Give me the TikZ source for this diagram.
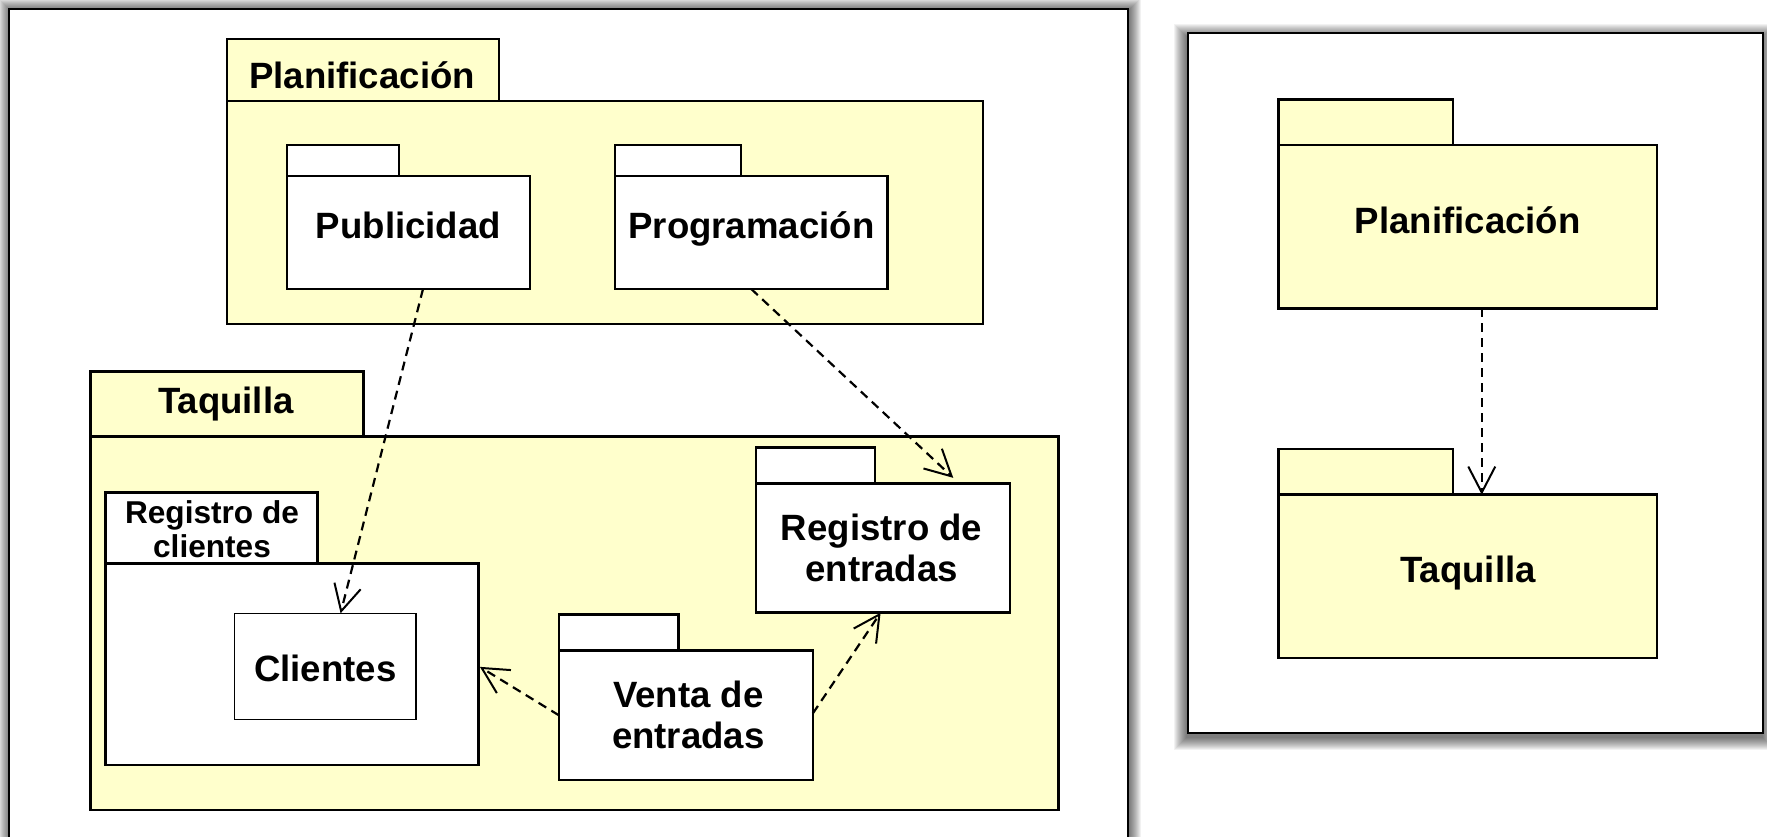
\documentclass[tikz,border=0pt]{standalone}
\usepackage{fontspec}
\setmainfont{Liberation Sans}
\usetikzlibrary{arrows.meta,calc}
\definecolor{pkgyellow}{RGB}{255,255,204}
\begin{document}
\begin{tikzpicture}[x=0.5pt,y=-0.5pt,
  box/.style={draw=black,line width=1.25pt,inner sep=0pt,outer sep=0pt,anchor=north west},
  sz/.style 2 args={minimum width=#1*0.5pt,minimum height=#2*0.5pt},
  frame/.style={draw=black,line width=1pt,fill=white,inner sep=0pt,outer sep=0pt,anchor=north west},
  bigtxt/.style={font=\bfseries\fontsize{18.3}{20.5}\selectfont,inner sep=0pt,anchor=base,align=center},
  smalltxt/.style={font=\bfseries\fontsize{15.8}{17}\selectfont,inner sep=0pt,anchor=base,align=center},
  dep/.style={draw=black,line width=1.1pt,dash pattern=on 4.5pt off 3pt,
    -{Straight Barb[length=13pt,width=13.5pt,line width=1pt]}}
]
\useasboundingbox (0,0) rectangle (1767,836);
\clip (0,0) rectangle (1767,836);
\fill[white] (0,0) rectangle (1767,836);

% shadows
\foreach \r in {1,...,12}
  \fill[black,opacity=0.055] (10-\r,10-\r) rectangle (1128.5+\r,851+\r);
\foreach \r in {1,...,13}
  \fill[black,opacity=0.05] (1187-\r,37-\r) rectangle (1762+\r,737+\r);

% frames
\node[frame,sz={1118.5}{841}] (leftframe) at (9,9) {};
\node[frame,sz={575}{700}] (rightframe) at (1188,33) {};

% ---- left panel ----
% Planificacion (container)
\node[box,fill=pkgyellow,sz={272}{62}] (plantab) at (227,39) {};
\node[box,fill=pkgyellow,sz={756}{223}] (planbody) at (227,101) {};
\node[bigtxt] (plantxt) at (362,88.3) {Planificación};
% Publicidad
\node[box,fill=white,sz={112}{31}] (pubtab) at (287,145) {};
\node[box,fill=white,sz={243}{113}] (pubbody) at (287,176) {};
\node[bigtxt] (pubtxt) at (408.5,238.3) {Publicidad};
% Programacion
\node[box,fill=white,sz={126}{31}] (progtab) at (615,145) {};
\node[box,fill=white,sz={272.5}{113}] (progbody) at (615,176) {};
\node[bigtxt] (progtxt) at (751.4,238.3) {Programación};

% Taquilla (container)
\node[box,fill=pkgyellow,sz={272.9}{65}] (taqtab) at (90.7,371.7) {};
\node[box,fill=pkgyellow,sz={967.9}{373.3}] (taqbody) at (90.7,436.7) {};
\node[bigtxt] (taqtxt) at (225.8,413.3) {Taquilla};
% Registro de clientes
\node[box,fill=white,sz={212}{70.6}] (rcltab) at (105.6,492.7) {};
\node[box,fill=white,sz={372.8}{201.7}] (rclbody) at (105.6,563.3) {};
\node[smalltxt] (rcltxt) at (212,557.3) {Registro de\\clientes};
% Clientes
\node[box,fill=white,line width=0.8pt,sz={181.4}{106}] (cli) at (234.6,613.3) {};
\node[bigtxt] (clitxt) at (325.3,681.7) {Clientes};
% Registro de entradas
\node[box,fill=white,sz={118.7}{36}] (rentab) at (756.2,447.3) {};
\node[box,fill=white,sz={253.8}{129.4}] (renbody) at (756.2,483.3) {};
\node[bigtxt] (rentxt) at (881.6,581) {Registro de\\entradas};
% Venta de entradas
\node[box,fill=white,sz={119.5}{36.4}] (ventab) at (559,614.3) {};
\node[box,fill=white,sz={253.9}{129.3}] (venbody) at (559,650.7) {};
\node[bigtxt] (ventxt) at (688.3,748.3) {Venta de\\entradas};

% ---- right panel ----
\node[box,fill=pkgyellow,sz={174.3}{45.7}] (rplantab) at (1278.7,99.3) {};
\node[box,fill=pkgyellow,sz={378.3}{163.3}] (rplanbody) at (1278.7,145) {};
\node[bigtxt] (rplantxt) at (1467.7,233.3) {Planificación};
\node[box,fill=pkgyellow,sz={174.3}{45.7}] (rtaqtab) at (1278.7,449) {};
\node[box,fill=pkgyellow,sz={378.3}{163.3}] (rtaqbody) at (1278.7,494.7) {};
\node[bigtxt] (rtaqtxt) at (1468,582.3) {Taquilla};

% ---- dependencies ----
\draw[dep] ($(pubbody.south)+(14.5,0)$) -- ($(cli.north)+(15.3,0)$);
\draw[dep,shorten >=4pt] (progbody.south) -- ($(renbody.north)+(76,0)$);
\draw[dep] ($(venbody.west)+(0,0)$) -- ($(rclbody.east)+(1.5,2.7)$);
\draw[dep] ($(venbody.east)+(0,-2)$) -- ($(renbody.south)+(-2.5,0)$);
\draw[dep] ($(rplanbody.south)+(13.9,0)$) -- ($(rtaqbody.north)+(13.9,0)$);
\end{tikzpicture}
\end{document}
